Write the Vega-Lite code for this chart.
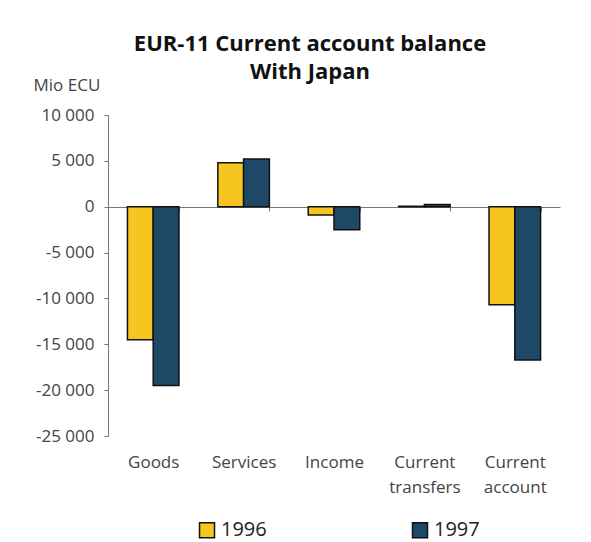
{
  "$schema": "https://vega.github.io/schema/vega-lite/v6.json",
  "width": 452,
  "height": 321,
  "autosize": "none",
  "padding": {"left": 108, "top": 115, "right": 31, "bottom": 106},
  "background": "white",
  "title": {
    "text": ["EUR-11 Current account balance", "With Japan"],
    "font": "Open Sans",
    "fontSize": 22,
    "fontWeight": "bold",
    "color": "#111111",
    "anchor": "middle",
    "frame": "group",
    "dx": -24,
    "lineHeight": 28,
    "offset": -8
  },
  "data": {
    "values": [
      {"category": "Goods", "year": "1996", "value": -14500},
      {"category": "Goods", "year": "1997", "value": -19500},
      {"category": "Services", "year": "1996", "value": 4800},
      {"category": "Services", "year": "1997", "value": 5200},
      {"category": "Income", "year": "1996", "value": -900},
      {"category": "Income", "year": "1997", "value": -2500},
      {"category": "Current transfers", "year": "1996", "value": 50},
      {"category": "Current transfers", "year": "1997", "value": 250},
      {"category": "Current account", "year": "1996", "value": -10700},
      {"category": "Current account", "year": "1997", "value": -16700}
    ]
  },
  "mark": {"type": "bar", "stroke": "#111111", "strokeWidth": 1.5},
  "encoding": {
    "x": {
      "field": "category",
      "type": "nominal",
      "sort": ["Goods", "Services", "Income", "Current transfers", "Current account"],
      "scale": {"paddingInner": 0.43, "paddingOuter": 0.215},
      "axis": {
        "title": null,
        "orient": "bottom",
        "offset": -229,
        "tickBand": "extent",
        "tickSize": 4,
        "tickColor": "#777777",
        "domainColor": "#777777",
        "labelAngle": 0,
        "labelPadding": 243,
        "labelBaseline": "top",
        "labelFont": "Open Sans",
        "labelFontSize": 17,
        "labelColor": "#444444",
        "labelLineHeight": 25,
        "labelExpr": "isValid(datum.value) ? split(datum.value, ' ') : ''"
      }
    },
    "xOffset": {"field": "year", "type": "nominal", "scale": {"paddingInner": 0}},
    "y": {
      "field": "value",
      "type": "quantitative",
      "scale": {"domain": [-25000, 10000], "nice": false, "zero": true},
      "axis": {
        "values": [10000, 5000, 0, -5000, -10000, -15000, -20000, -25000],
        "grid": false,
        "tickSize": 4,
        "tickColor": "#777777",
        "domainColor": "#777777",
        "labelPadding": 10,
        "labelFont": "Open Sans",
        "labelFontSize": 17,
        "labelColor": "#444444",
        "labelExpr": "(datum.value < 0 ? '-' : '') + replace(format(abs(datum.value), ','), ',', ' ')",
        "title": "Mio ECU",
        "titleAngle": 0,
        "titleAlign": "left",
        "titleBaseline": "alphabetic",
        "titleX": -75,
        "titleY": -25,
        "titleFont": "Open Sans",
        "titleFontSize": 17,
        "titleFontWeight": "normal",
        "titleColor": "#444444"
      }
    },
    "color": {
      "field": "year",
      "type": "nominal",
      "scale": {"domain": ["1996", "1997"], "range": ["#F7C520", "#1D4866"]},
      "legend": {
        "title": null,
        "orient": "none",
        "direction": "horizontal",
        "legendX": 89,
        "legendY": 405,
        "columnPadding": 142,
        "symbolType": "square",
        "symbolSize": 225,
        "symbolStrokeColor": "#111111",
        "symbolStrokeWidth": 1.5,
        "symbolOpacity": 1,
        "labelFont": "Open Sans",
        "labelFontSize": 20,
        "labelColor": "#222222",
        "labelOffset": 4
      }
    }
  },
  "config": {"view": {"stroke": null}}
}
